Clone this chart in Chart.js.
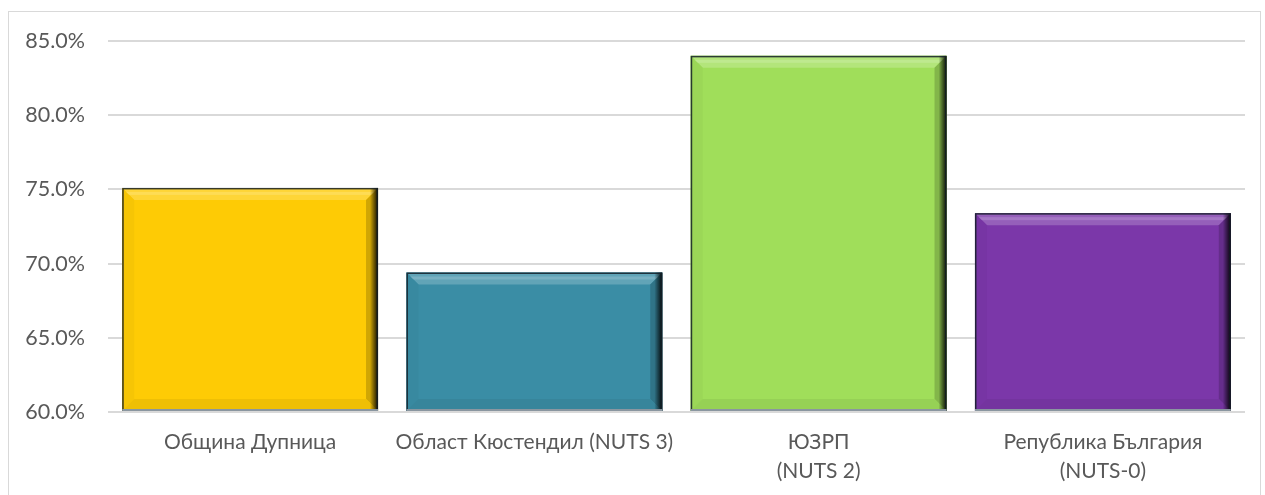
<!DOCTYPE html>
<html>
<head>
<meta charset="utf-8">
<script src="https://cdn.jsdelivr.net/npm/chart.js@4/dist/chart.umd.min.js"></script>
<style>
  html, body { margin: 0; padding: 0; background: #ffffff; }
  #wrap { position: relative; width: 1265px; height: 495px; overflow: hidden; }
  #frame { position: absolute; left: 8px; top: 11px; width: 1253px; height: 500px; border: 1px solid #d9d9d9; box-sizing: border-box; }
  canvas { position: absolute; left: 0; top: 0; }
</style>
</head>
<body>
<div id="wrap">
  <div id="frame"></div>
  <canvas id="c" width="1265" height="495"></canvas>
</div>
<script>
const categories = [
  'Община Дупница',
  'Област Кюстендил (NUTS 3)',
  ['ЮЗРП', '(NUTS 2)'],
  ['Република България', '(NUTS-0)']
];
const values = [75.1, 69.4, 84.0, 73.4];
const barColors = ['#FECB05', '#3A8DA5', '#A0DE5A', '#7B37A9'];
const yTicks = { min: 60, max: 85, step: 5 };

function shade(hex, f) {
  const n = parseInt(hex.slice(1), 16);
  let r = (n >> 16) & 255, g = (n >> 8) & 255, b = n & 255;
  if (f >= 0) { r += (255 - r) * f; g += (255 - g) * f; b += (255 - b) * f; }
  else { r *= (1 + f); g *= (1 + f); b *= (1 + f); }
  return 'rgb(' + Math.round(r) + ',' + Math.round(g) + ',' + Math.round(b) + ')';
}

const bevelPlugin = {
  id: 'bevel',
  afterDatasetsDraw(chart) {
    const ctx = chart.ctx;
    const area = chart.chartArea;
    const meta = chart.getDatasetMeta(0);
    meta.data.forEach((el, i) => {
      const col = barColors[i];
      const L = el.x - el.width / 2, R = el.x + el.width / 2, T = el.y;
      const B = Math.min(el.base, area.bottom);
      const b = 12;
      ctx.save();
      // top bevel
      ctx.beginPath();
      ctx.moveTo(L, T); ctx.lineTo(R, T); ctx.lineTo(R - b, T + b); ctx.lineTo(L + b, T + b); ctx.closePath();
      ctx.fillStyle = shade(col, 0.2); ctx.fill();
      ctx.fillStyle = shade(col, 0.32);
      ctx.fillRect(L + 3, T + 4, el.width - 6, 3);
      // left bevel
      ctx.beginPath();
      ctx.moveTo(L, T); ctx.lineTo(L + b, T + b); ctx.lineTo(L + b, B - b); ctx.lineTo(L, B); ctx.closePath();
      ctx.fillStyle = shade(col, -0.03); ctx.fill();
      // right bevel
      ctx.beginPath();
      ctx.moveTo(R, T); ctx.lineTo(R - b, T + b); ctx.lineTo(R - b, B - b); ctx.lineTo(R, B); ctx.closePath();
      ctx.fillStyle = shade(col, -0.18); ctx.fill();
      // bottom bevel
      ctx.beginPath();
      ctx.moveTo(L, B); ctx.lineTo(L + b, B - b); ctx.lineTo(R - b, B - b); ctx.lineTo(R, B); ctx.closePath();
      ctx.fillStyle = shade(col, -0.06); ctx.fill();
      // right dark shadow
      const g = ctx.createLinearGradient(R - 8, 0, R, 0);
      g.addColorStop(0, 'rgba(0,0,0,0)');
      g.addColorStop(1, 'rgba(0,0,0,0.92)');
      ctx.fillStyle = g;
      ctx.fillRect(R - 8, T, 8, B - T);
      // outline
      ctx.strokeStyle = 'rgba(20,30,40,0.85)';
      ctx.lineWidth = 1.5;
      ctx.strokeRect(L + 0.75, T + 0.75, el.width - 1.5, B - T - 1.5);
      // bottom gray line
      ctx.strokeStyle = '#8a96a0';
      ctx.lineWidth = 2;
      ctx.beginPath(); ctx.moveTo(L, B - 1); ctx.lineTo(R, B - 1); ctx.stroke();
      ctx.restore();
    });
  }
};

new Chart(document.getElementById('c'), {
  type: 'bar',
  data: {
    labels: categories,
    datasets: [{
      data: values,
      base: yTicks.min,
      backgroundColor: barColors,
      borderWidth: 0,
      categoryPercentage: 0.9,
      barPercentage: 1.0
    }]
  },
  options: {
    responsive: false,
    animation: false,
    events: [],
    layout: { padding: { top: 41, right: 20, bottom: 0, left: 0 } },
    plugins: { legend: { display: false }, tooltip: { enabled: false } },
    scales: {
      x: {
        grid: { display: false, drawTicks: false },
        border: { display: false },
        ticks: {
          color: '#595959',
          font: { family: 'Lato', size: 21, lineHeight: 1.38 },
          padding: 16,
          maxRotation: 0,
          autoSkip: false
        },
        afterFit(s) { s.height = 83; }
      },
      y: {
        min: yTicks.min, max: yTicks.max,
        grid: { color: '#d9d9d9', lineWidth: 2, drawTicks: false },
        border: { display: false },
        ticks: {
          stepSize: yTicks.step,
          color: '#595959',
          font: { family: 'Lato', size: 21.5 },
          padding: 23,
          callback: v => v.toFixed(1) + '%'
        },
        afterFit(s) { s.width = 108; }
      }
    }
  },
  plugins: [bevelPlugin]
});
</script>
</body>
</html>
